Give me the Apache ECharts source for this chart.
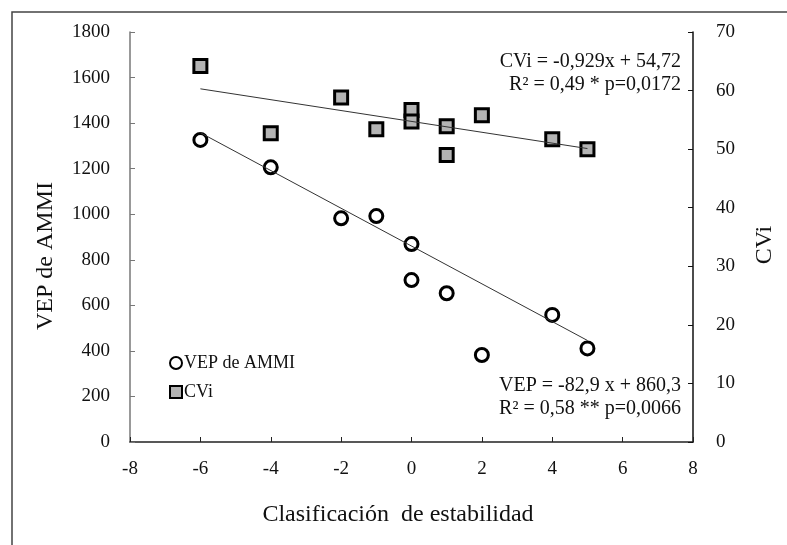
<!DOCTYPE html>
<html>
<head>
<meta charset="utf-8">
<script src="https://cdn.jsdelivr.net/npm/echarts@6/dist/echarts.min.js"></script>
<style>html,body{margin:0;padding:0;background:#fff;}#c{width:787px;height:545px;}</style>
</head>
<body>
<div id="c"></div>
<script>
var xTicks = [-8, -6, -4, -2, 0, 2, 4, 6, 8];
var xVEP = [-6, -4, -2, -1, 0, 0, 1, 2, 4, 5];
var vep = [1326, 1206, 982, 992, 869, 711, 653, 382, 558, 411];
var xCVi = [-6, -4, -2, -1, 0, 0, 1, 1, 2, 4, 5];
var cvi = [64.2, 52.7, 58.8, 53.4, 56.7, 54.7, 53.9, 49.0, 55.8, 51.7, 50.0];
var trendX = [-6, 5];
var trendVEP = [1357.7, 445.8];
var trendCVi = [60.3, 50.1];
var eqCVi = ['CVi = -0,929x + 54,72', 'R² = 0,49 * p=0,0172'];
var eqVEP = ['VEP = -82,9 x + 860,3', 'R² = 0,58 ** p=0,0066'];
var titleX = 'Clasificación  de estabilidad';
var titleY1 = 'VEP de AMMI';
var titleY2 = 'CVi';

function pairs(xs, ys) { return xs.map(function (x, i) { return [x, ys[i]]; }); }

var font = '"Liberation Serif", "Times New Roman", serif';
var chart = echarts.init(document.getElementById('c'));
chart.setOption({
  animation: false,
  backgroundColor: '#fff',
  grid: { left: 130, right: 94, top: 32, bottom: 103 },
  legend: {
    orient: 'vertical', left: 164, top: 349, itemGap: 11,
    itemWidth: 12, itemHeight: 12,
    textStyle: { fontFamily: font, fontSize: 18, color: '#111', padding: [0, 0, 0, -3] },
    data: [{ name: 'VEP de AMMI', icon: 'circle' }, { name: 'CVi', icon: 'rect' }]
  },
  xAxis: {
    type: 'value', min: -8, max: 8, interval: 2,
    axisLine: { onZero: false, lineStyle: { color: '#222', width: 1.5 } },
    axisTick: { inside: true, length: 5, lineStyle: { color: '#222' } },
    axisLabel: { fontFamily: font, fontSize: 19, color: '#111', margin: 18 },
    splitLine: { show: false }
  },
  yAxis: [{
    type: 'value', min: 0, max: 1800, interval: 200, position: 'left',
    axisLine: { show: true, onZero: false, lineStyle: { color: '#777', width: 1.5 } },
    axisTick: { show: true, inside: true, length: 5, lineStyle: { color: '#777' } },
    axisLabel: { fontFamily: font, fontSize: 19, color: '#111', margin: 20, formatter: function (v) { return String(v); } },
    splitLine: { show: false }
  }, {
    type: 'value', min: 0, max: 70, interval: 10, position: 'right',
    axisLine: { show: true, onZero: false, lineStyle: { color: '#111', width: 1.5 } },
    axisTick: { show: true, inside: true, length: 5, lineStyle: { color: '#111' } },
    axisLabel: { fontFamily: font, fontSize: 19, color: '#111', margin: 23, formatter: function (v) { return String(v); } },
    splitLine: { show: false }
  }],
  series: [{
    name: 'VEP de AMMI', type: 'scatter', yAxisIndex: 0, symbol: 'circle', symbolSize: 13,
    itemStyle: { color: '#fff', borderColor: '#000', borderWidth: 3, opacity: 1 },
    data: pairs(xVEP, vep), z: 3
  }, {
    name: 'CVi', type: 'scatter', yAxisIndex: 1, symbol: 'rect', symbolSize: 13,
    itemStyle: { color: '#b4b4b4', borderColor: '#000', borderWidth: 3, opacity: 1 },
    data: pairs(xCVi, cvi), z: 3
  }, {
    name: 'trendVEP', type: 'line', yAxisIndex: 0, symbol: 'none',
    lineStyle: { color: '#333', width: 1 }, data: pairs(trendX, trendVEP), z: 4
  }, {
    name: 'trendCVi', type: 'line', yAxisIndex: 1, symbol: 'none',
    lineStyle: { color: '#333', width: 1 }, data: pairs(trendX, trendCVi), z: 4
  }],
  graphic: [
    { type: 'rect', shape: { x: 12, y: 12, width: 800, height: 600 }, style: { fill: 'none', stroke: '#444', lineWidth: 1.5 }, z: 0 },
    { type: 'text', x: 681, y: 50, style: { text: eqCVi.join('\n'), align: 'right', verticalAlign: 'top', fontFamily: font, fontSize: 20, lineHeight: 23, fill: '#111' }, z: 10 },
    { type: 'text', x: 681, y: 374, style: { text: eqVEP.join('\n'), align: 'right', verticalAlign: 'top', fontFamily: font, fontSize: 20, lineHeight: 23, fill: '#111' }, z: 10 },
    { type: 'text', x: 398, y: 515, style: { text: titleX, align: 'center', verticalAlign: 'middle', fontFamily: font, fontSize: 24, fill: '#111' }, z: 10 },
    { type: 'text', x: 46, y: 256, rotation: Math.PI / 2, style: { text: titleY1, align: 'center', verticalAlign: 'middle', fontFamily: font, fontSize: 24, fill: '#111' }, z: 10 },
    { type: 'text', x: 765, y: 245, rotation: Math.PI / 2, style: { text: titleY2, align: 'center', verticalAlign: 'middle', fontFamily: font, fontSize: 24, fill: '#111' }, z: 10 }
  ]
});
</script>
</body>
</html>
